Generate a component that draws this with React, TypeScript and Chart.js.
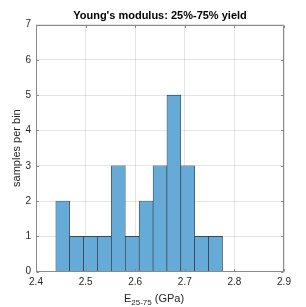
import React, { useEffect, useRef } from "react";
import { Chart, registerables } from "chart.js";

Chart.register(...registerables);

const binEdges = [2.440, 2.468, 2.496, 2.524, 2.552, 2.580, 2.608, 2.636, 2.664, 2.692, 2.720, 2.748, 2.776];
const counts = [2, 1, 1, 1, 3, 1, 2, 3, 5, 3, 1, 1];
const xTicks = [2.4, 2.5, 2.6, 2.7, 2.8, 2.9];
const yTicks = [0, 1, 2, 3, 4, 5, 6, 7];
const titleText = "Young's modulus: 25%-75% yield";
const yLabel = "samples per bin";
const xLabelMain = "E";
const xLabelSub = "25-75";
const xLabelUnit = " (GPa)";

const FONT = "'Liberation Sans', Arial, Helvetica, sans-serif";
const TEXT = "#262626";
const AXIS = "#8a8a8a";

const decor = {
  id: "decor",
  afterDraw(chart: any) {
    const { ctx, chartArea: a, scales } = chart;
    ctx.save();
    ctx.strokeStyle = AXIS;
    ctx.lineWidth = 1;
    const L = Math.round(a.left) + 0.5, R = Math.round(a.right) - 0.5;
    const T = Math.round(a.top) + 0.5, B = Math.round(a.bottom) - 0.5;
    ctx.beginPath();
    ctx.moveTo(L, T); ctx.lineTo(R, T); ctx.lineTo(R, B); ctx.lineTo(L, B); ctx.closePath();
    ctx.stroke();
    const tl = 2.5;
    ctx.beginPath();
    xTicks.forEach((v) => {
      const px = Math.round(scales.x.getPixelForValue(v)) + 0.5;
      ctx.moveTo(px, B); ctx.lineTo(px, B - tl);
      ctx.moveTo(px, T); ctx.lineTo(px, T + tl);
    });
    yTicks.forEach((v) => {
      const py = Math.round(scales.y.getPixelForValue(v)) + 0.5;
      ctx.moveTo(L, py); ctx.lineTo(L + tl, py);
      ctx.moveTo(R, py); ctx.lineTo(R - tl, py);
    });
    ctx.stroke();
    ctx.fillStyle = "#000";
    ctx.font = `bold 11px ${FONT}`;
    ctx.textAlign = "center";
    ctx.textBaseline = "alphabetic";
    ctx.fillText(titleText, (a.left + a.right) / 2, 19);
    ctx.fillStyle = TEXT;
    ctx.save();
    ctx.translate(16.5, (a.top + a.bottom) / 2);
    ctx.rotate(-Math.PI / 2);
    ctx.font = `11px ${FONT}`;
    ctx.textBaseline = "middle";
    ctx.fillText(yLabel, 0, 0);
    ctx.restore();
    ctx.textAlign = "left";
    ctx.textBaseline = "alphabetic";
    ctx.font = `11px ${FONT}`;
    const wE = ctx.measureText(xLabelMain).width;
    ctx.font = `8px ${FONT}`;
    const wS = ctx.measureText(xLabelSub).width;
    ctx.font = `11px ${FONT}`;
    const wU = ctx.measureText(xLabelUnit).width;
    const total = wE + wS + wU;
    const x0 = (a.left + a.right) / 2 - 6 - total / 2;
    const base = 301.5;
    ctx.fillText(xLabelMain, x0, base);
    ctx.font = `8px ${FONT}`;
    ctx.fillText(xLabelSub, x0 + wE, base + 3.5);
    ctx.font = `11px ${FONT}`;
    ctx.fillText(xLabelUnit, x0 + wE + wS, base);
    ctx.restore();
  },
};

export default function App() {
  const ref = useRef<HTMLCanvasElement>(null);
  useEffect(() => {
    document.body.style.margin = "0";
    const centers = counts.map((_, i) => (binEdges[i] + binEdges[i + 1]) / 2);
    const chart = new Chart(ref.current!, {
      type: "bar",
      data: {
        datasets: [
          {
            data: centers.map((c, i) => ({ x: c, y: counts[i] })),
            backgroundColor: "rgb(102,170,215)",
            borderColor: "#2a2a2a",
            borderWidth: 0.6,
            barPercentage: 1,
            categoryPercentage: 1,
          } as any,
        ],
      },
      options: {
        animation: false,
        responsive: false,
        devicePixelRatio: 1,
        layout: { padding: { top: 24.5, right: 22, left: 0, bottom: 0 } },
        plugins: { legend: { display: false }, tooltip: { enabled: false }, title: { display: false } },
        scales: {
          x: {
            type: "linear",
            offset: false,
            min: 2.4,
            max: 2.9,
            afterBuildTicks: (s: any) => { s.ticks = xTicks.map((v) => ({ value: v })); },
            afterFit: (s: any) => { s.height = 35.3; },
            ticks: {
              color: TEXT,
              font: { family: FONT, size: 10 },
              padding: 5,
              maxRotation: 0,
              callback: (v: any) => Number(v).toFixed(1),
            },
            grid: { color: "rgba(0,0,0,0.1)", drawTicks: false, offset: false },
            border: { display: false },
          },
          y: {
            min: 0,
            max: 7,
            afterBuildTicks: (s: any) => { s.ticks = yTicks.map((v) => ({ value: v })); },
            afterFit: (s: any) => { s.width = 36; },
            ticks: {
              color: TEXT,
              font: { family: FONT, size: 10 },
              padding: 5,
              callback: (v: any) => String(v),
            },
            grid: { color: "rgba(0,0,0,0.1)", drawTicks: false },
            border: { display: false },
          },
        },
      },
      plugins: [decor],
    } as any);
    return () => chart.destroy();
  }, []);
  return (
    <div style={{ position: "absolute", left: 0, top: 0, width: 306, height: 307, background: "#fff" }}>
      <canvas ref={ref} width={306} height={307} />
    </div>
  );
}
